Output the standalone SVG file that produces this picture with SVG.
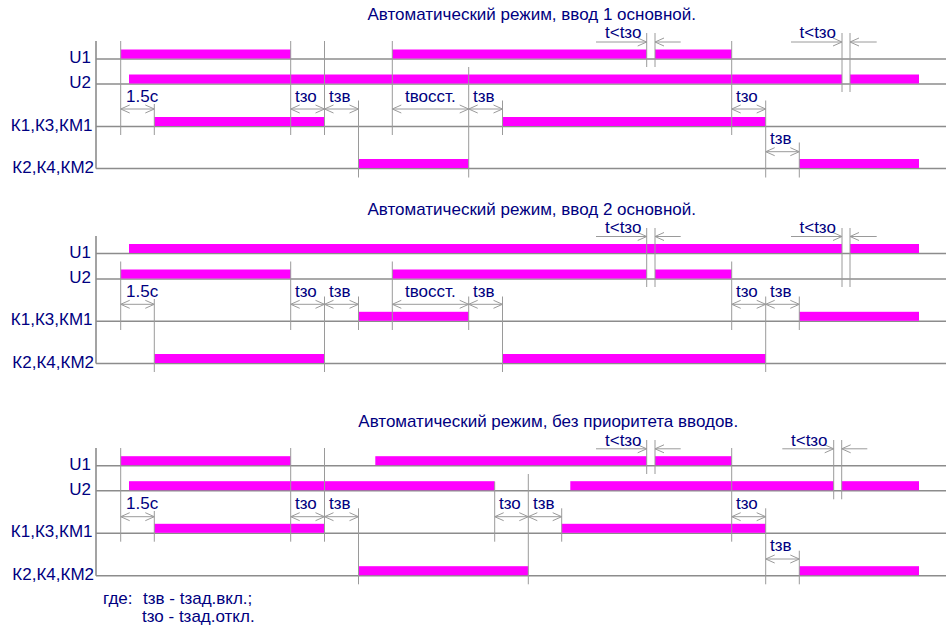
<svg xmlns="http://www.w3.org/2000/svg" width="946" height="632" viewBox="0 0 946 632">
<defs>
<style>
.bar{fill:#ff00ff}
.base{stroke:#8c8c8c;stroke-width:1.6;fill:none}
.tick{stroke:#9a9a9a;stroke-width:1;fill:none}
.dim{stroke:#9a9a9a;stroke-width:1;fill:none}
.a2{marker-start:url(#ah);marker-end:url(#ah)}
.a1{marker-end:url(#ah)}
text{font-family:"Liberation Sans",Arial,sans-serif;font-size:17px;fill:#000080}
.row{text-anchor:end}
</style>
<marker id="ah" viewBox="0 0 10 10" refX="10" refY="5" markerWidth="10" markerHeight="10" markerUnits="userSpaceOnUse" orient="auto-start-reverse">
<path d="M1,1 L10,5 L1,9" fill="none" stroke="#9a9a9a" stroke-width="1"/>
</marker>
</defs>
<rect width="946" height="632" fill="#ffffff"/>

<!-- Diagram 1 -->
<g id="d1">
<text x="367.5" y="20">Автоматический режим, ввод 1 основной.</text>
<g id="d1-axes">
<line class="base" x1="96" y1="41" x2="96" y2="168.5"/>
<line class="base" x1="96" y1="59" x2="946" y2="59"/>
<line class="base" x1="96" y1="84" x2="946" y2="84"/>
<line class="base" x1="96" y1="126.5" x2="946" y2="126.5"/>
<line class="base" x1="96" y1="168.5" x2="946" y2="168.5"/>
</g>
<text class="row" x="91" y="63">U1</text>
<text class="row" x="91" y="88">U2</text>
<text class="row" x="92.5" y="130.5">К1,К3,КМ1</text>
<text class="row" x="94" y="172.5">К2,К4,КМ2</text>
<g id="d1-bars">
<rect class="bar" x="120.7" y="49.5" width="170" height="9"/>
<rect class="bar" x="392.3" y="49.5" width="254.4" height="9"/>
<rect class="bar" x="655" y="49.5" width="76.7" height="9"/>
<rect class="bar" x="129" y="74.5" width="713" height="9"/>
<rect class="bar" x="850" y="74.5" width="69" height="9"/>
<rect class="bar" x="154.3" y="117" width="170.2" height="9"/>
<rect class="bar" x="502.5" y="117" width="263.2" height="9"/>
<rect class="bar" x="358.5" y="159" width="110.2" height="9"/>
<rect class="bar" x="799.3" y="159" width="119.7" height="9"/>
</g>
<g id="d1-ticks">
<line class="tick" x1="120.7" y1="41" x2="120.7" y2="135"/>
<line class="tick" x1="154.3" y1="104" x2="154.3" y2="135"/>
<line class="tick" x1="290.7" y1="41" x2="290.7" y2="135"/>
<line class="tick" x1="324.5" y1="41" x2="324.5" y2="135"/>
<line class="tick" x1="358.5" y1="100.5" x2="358.5" y2="177.5"/>
<line class="tick" x1="392.3" y1="41" x2="392.3" y2="135"/>
<line class="tick" x1="468.7" y1="67" x2="468.7" y2="177.5"/>
<line class="tick" x1="502.5" y1="100.5" x2="502.5" y2="135"/>
<line class="tick" x1="646.7" y1="33" x2="646.7" y2="67"/>
<line class="tick" x1="655" y1="33" x2="655" y2="67"/>
<line class="tick" x1="731.7" y1="41" x2="731.7" y2="135"/>
<line class="tick" x1="765.7" y1="100.5" x2="765.7" y2="177.5"/>
<line class="tick" x1="799.3" y1="142.5" x2="799.3" y2="177.5"/>
<line class="tick" x1="842" y1="33" x2="842" y2="92"/>
<line class="tick" x1="850" y1="33" x2="850" y2="92"/>
</g>
<g id="d1-dims">
<line class="dim a2" x1="120.7" y1="109" x2="154.3" y2="109"/>
<line class="dim a2" x1="290.7" y1="109" x2="324.5" y2="109"/>
<line class="dim a2" x1="324.5" y1="109" x2="358.5" y2="109"/>
<line class="dim a2" x1="392.3" y1="109" x2="468.7" y2="109"/>
<line class="dim a2" x1="468.7" y1="109" x2="502.5" y2="109"/>
<line class="dim a2" x1="731.7" y1="109" x2="765.7" y2="109"/>
<line class="dim a2" x1="765.7" y1="151.7" x2="799.3" y2="151.7"/>
<line class="dim a1" x1="596" y1="42" x2="646.7" y2="42"/>
<line class="dim a1" x1="680.7" y1="42" x2="655" y2="42"/>
<line class="dim a1" x1="791" y1="42" x2="842" y2="42"/>
<line class="dim a1" x1="876.7" y1="42" x2="850" y2="42"/>
</g>
<text x="126" y="101.5">1.5с</text>
<text x="295" y="101.5">tзо</text>
<text x="329" y="101.5">tзв</text>
<text x="405" y="101.5">tвосст.</text>
<text x="473" y="101.5">tзв</text>
<text x="736" y="101.5">tзо</text>
<text x="770" y="143.5">tзв</text>
<text x="605" y="38">t&lt;tзо</text>
<text x="799.5" y="38">t&lt;tзо</text>
</g>

<!-- Diagram 2 -->
<g id="d2">
<text x="367.5" y="214.5">Автоматический режим, ввод 2 основной.</text>
<g id="d2-axes">
<line class="base" x1="96" y1="236" x2="96" y2="363.5"/>
<line class="base" x1="96" y1="253.5" x2="946" y2="253.5"/>
<line class="base" x1="96" y1="279" x2="946" y2="279"/>
<line class="base" x1="96" y1="321.3" x2="946" y2="321.3"/>
<line class="base" x1="96" y1="363.5" x2="946" y2="363.5"/>
</g>
<text class="row" x="91" y="257.5">U1</text>
<text class="row" x="91" y="283">U2</text>
<text class="row" x="92.5" y="325.3">К1,К3,КМ1</text>
<text class="row" x="94" y="367.5">К2,К4,КМ2</text>
<g id="d2-bars">
<rect class="bar" x="129" y="244" width="713" height="9"/>
<rect class="bar" x="850" y="244" width="69" height="9"/>
<rect class="bar" x="120.7" y="269.5" width="170" height="9"/>
<rect class="bar" x="392.3" y="269.5" width="254.4" height="9"/>
<rect class="bar" x="655" y="269.5" width="76.7" height="9"/>
<rect class="bar" x="358.5" y="311.8" width="110.2" height="9"/>
<rect class="bar" x="799.3" y="311.8" width="119.7" height="9"/>
<rect class="bar" x="154.3" y="354" width="170.2" height="9"/>
<rect class="bar" x="502.5" y="354" width="263.2" height="9"/>
</g>
<g id="d2-ticks">
<line class="tick" x1="120.7" y1="261.5" x2="120.7" y2="330"/>
<line class="tick" x1="154.3" y1="299" x2="154.3" y2="372"/>
<line class="tick" x1="290.7" y1="261.5" x2="290.7" y2="330"/>
<line class="tick" x1="324.5" y1="296.5" x2="324.5" y2="372"/>
<line class="tick" x1="358.5" y1="296.5" x2="358.5" y2="330"/>
<line class="tick" x1="392.3" y1="261.5" x2="392.3" y2="330"/>
<line class="tick" x1="468.7" y1="296.5" x2="468.7" y2="330"/>
<line class="tick" x1="502.5" y1="296.5" x2="502.5" y2="372"/>
<line class="tick" x1="646.7" y1="228" x2="646.7" y2="287"/>
<line class="tick" x1="655" y1="228" x2="655" y2="287"/>
<line class="tick" x1="731.7" y1="261.5" x2="731.7" y2="330"/>
<line class="tick" x1="765.7" y1="296.5" x2="765.7" y2="372"/>
<line class="tick" x1="799.3" y1="296.5" x2="799.3" y2="330"/>
<line class="tick" x1="842" y1="228" x2="842" y2="287"/>
<line class="tick" x1="850" y1="228" x2="850" y2="287"/>
</g>
<g id="d2-dims">
<line class="dim a2" x1="120.7" y1="304.3" x2="154.3" y2="304.3"/>
<line class="dim a2" x1="290.7" y1="304.3" x2="324.5" y2="304.3"/>
<line class="dim a2" x1="324.5" y1="304.3" x2="358.5" y2="304.3"/>
<line class="dim a2" x1="392.3" y1="304.3" x2="468.7" y2="304.3"/>
<line class="dim a2" x1="468.7" y1="304.3" x2="502.5" y2="304.3"/>
<line class="dim a2" x1="731.7" y1="304.3" x2="765.7" y2="304.3"/>
<line class="dim a2" x1="765.7" y1="304.3" x2="799.3" y2="304.3"/>
<line class="dim a1" x1="596" y1="236.5" x2="646.7" y2="236.5"/>
<line class="dim a1" x1="680.7" y1="236.5" x2="655" y2="236.5"/>
<line class="dim a1" x1="791" y1="236.5" x2="842" y2="236.5"/>
<line class="dim a1" x1="876.7" y1="236.5" x2="850" y2="236.5"/>
</g>
<text x="126" y="296.5">1.5с</text>
<text x="295" y="296.5">tзо</text>
<text x="329" y="296.5">tзв</text>
<text x="405" y="296.5">tвосст.</text>
<text x="473" y="296.5">tзв</text>
<text x="736" y="296.5">tзо</text>
<text x="770" y="296.5">tзв</text>
<text x="605" y="233">t&lt;tзо</text>
<text x="799.5" y="233">t&lt;tзо</text>
</g>

<!-- Diagram 3 -->
<g id="d3">
<text x="358.3" y="426.5">Автоматический режим, без приоритета вводов.</text>
<g id="d3-axes">
<line class="base" x1="96" y1="448" x2="96" y2="575.7"/>
<line class="base" x1="96" y1="465.7" x2="946" y2="465.7"/>
<line class="base" x1="96" y1="490.7" x2="946" y2="490.7"/>
<line class="base" x1="96" y1="533.3" x2="946" y2="533.3"/>
<line class="base" x1="96" y1="575.7" x2="946" y2="575.7"/>
</g>
<text class="row" x="91" y="469.7">U1</text>
<text class="row" x="91" y="494.7">U2</text>
<text class="row" x="92.5" y="537.3">К1,К3,КМ1</text>
<text class="row" x="94" y="579.7">К2,К4,КМ2</text>
<g id="d3-bars">
<rect class="bar" x="120.7" y="456.2" width="170" height="9"/>
<rect class="bar" x="375.3" y="456.2" width="271.4" height="9"/>
<rect class="bar" x="655" y="456.2" width="76.7" height="9"/>
<rect class="bar" x="129" y="481.2" width="365.7" height="9"/>
<rect class="bar" x="570.3" y="481.2" width="263.4" height="9"/>
<rect class="bar" x="841.7" y="481.2" width="77.3" height="9"/>
<rect class="bar" x="154.3" y="523.8" width="170.2" height="9"/>
<rect class="bar" x="561.7" y="523.8" width="204" height="9"/>
<rect class="bar" x="358.5" y="566.2" width="169.8" height="9"/>
<rect class="bar" x="799.3" y="566.2" width="119.7" height="9"/>
</g>
<g id="d3-ticks">
<line class="tick" x1="120.7" y1="448" x2="120.7" y2="541.7"/>
<line class="tick" x1="154.3" y1="511" x2="154.3" y2="541.7"/>
<line class="tick" x1="290.7" y1="448" x2="290.7" y2="541.7"/>
<line class="tick" x1="324.5" y1="448" x2="324.5" y2="541.7"/>
<line class="tick" x1="358.5" y1="508.3" x2="358.5" y2="584.3"/>
<line class="tick" x1="494.7" y1="481.7" x2="494.7" y2="541.7"/>
<line class="tick" x1="528.3" y1="474" x2="528.3" y2="584.3"/>
<line class="tick" x1="561.7" y1="508.3" x2="561.7" y2="541.7"/>
<line class="tick" x1="646.7" y1="440" x2="646.7" y2="474"/>
<line class="tick" x1="655" y1="440" x2="655" y2="474"/>
<line class="tick" x1="731.7" y1="448" x2="731.7" y2="541.7"/>
<line class="tick" x1="765.7" y1="508.3" x2="765.7" y2="584.3"/>
<line class="tick" x1="799.3" y1="550.7" x2="799.3" y2="584.3"/>
<line class="tick" x1="833.7" y1="440" x2="833.7" y2="499.3"/>
<line class="tick" x1="841.7" y1="440" x2="841.7" y2="499.3"/>
</g>
<g id="d3-dims">
<line class="dim a2" x1="120.7" y1="516.7" x2="154.3" y2="516.7"/>
<line class="dim a2" x1="290.7" y1="516.7" x2="324.5" y2="516.7"/>
<line class="dim a2" x1="324.5" y1="516.7" x2="358.5" y2="516.7"/>
<line class="dim a2" x1="494.7" y1="516.7" x2="528.3" y2="516.7"/>
<line class="dim a2" x1="528.3" y1="516.7" x2="561.7" y2="516.7"/>
<line class="dim a2" x1="731.7" y1="516.7" x2="765.7" y2="516.7"/>
<line class="dim a2" x1="765.7" y1="559" x2="799.3" y2="559"/>
<line class="dim a1" x1="596" y1="448.8" x2="646.7" y2="448.8"/>
<line class="dim a1" x1="680.7" y1="448.8" x2="655" y2="448.8"/>
<line class="dim a1" x1="782.3" y1="448.8" x2="833.7" y2="448.8"/>
<line class="dim a1" x1="867.3" y1="448.8" x2="841.7" y2="448.8"/>
</g>
<text x="126" y="509">1.5с</text>
<text x="295" y="509">tзо</text>
<text x="329" y="509">tзв</text>
<text x="499" y="509">tзо</text>
<text x="533" y="509">tзв</text>
<text x="736" y="509">tзо</text>
<text x="770" y="551">tзв</text>
<text x="605" y="445.5">t&lt;tзо</text>
<text x="791" y="445.5">t&lt;tзо</text>
</g>

<g id="legend">
<text x="103" y="604">где:<tspan x="143">tзв - tзад.вкл.;</tspan></text>
<text x="142" y="622">tзо - tзад.откл.</text>
</g>
</svg>
